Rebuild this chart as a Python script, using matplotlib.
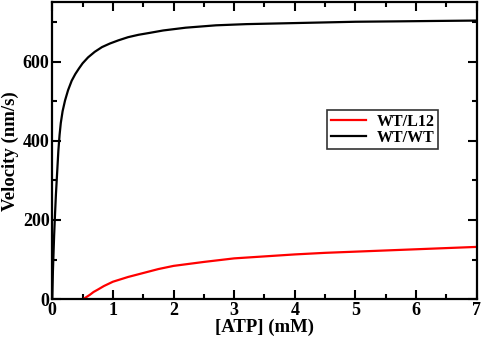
import matplotlib
matplotlib.use('Agg')
import matplotlib.pyplot as plt
from matplotlib.ticker import MultipleLocator

# values
atp_wt = [0.0, 0.01, 0.02, 0.03, 0.045, 0.06, 0.08, 0.1, 0.12, 0.14, 0.17, 0.21,
          0.26, 0.32, 0.38, 0.44, 0.5, 0.59, 0.7, 0.82, 0.95, 1.09, 1.25, 1.42,
          1.61, 1.83, 2.2, 2.7, 3.2, 3.8, 4.4, 5.0, 5.7, 6.3, 7.0]
vel_wt = [0, 70, 115, 160, 215, 265, 320, 375, 415, 445, 475, 502,
          528, 552, 569, 583, 596, 611, 625, 637, 646, 654, 662, 668,
          673, 679, 686, 692, 695, 697, 699, 701, 702, 703, 704]

atp_l12 = [0.51, 0.56, 0.62, 0.68, 0.75, 0.85, 1.0, 1.25, 1.5, 1.75, 2.0, 2.5,
           3.0, 3.5, 4.0, 4.5, 5.0, 5.5, 6.0, 6.5, 7.0]
vel_l12 = [0, 5, 11, 18, 24, 33, 44, 56, 66, 76, 84, 94,
           103, 108, 113, 117, 120, 123, 126, 129, 132]

plt.rcParams['font.family'] = ['Liberation Serif', 'DejaVu Serif']
plt.rcParams['font.weight'] = 'bold'

fig = plt.figure(figsize=(4.82, 3.38), dpi=100)
ax = fig.add_axes([0.1085, 0.115, 0.8805, 0.878])

ax.plot(atp_l12, vel_l12, color='red', lw=1.6, label='WT/L12')
ax.plot(atp_wt, vel_wt, color='black', lw=1.6, label='WT/WT')

ax.set_xlim(0, 7)
ax.set_ylim(0, 750)
ax.xaxis.set_major_locator(MultipleLocator(1))
ax.xaxis.set_minor_locator(MultipleLocator(0.5))
ax.yaxis.set_major_locator(MultipleLocator(200))
ax.yaxis.set_minor_locator(MultipleLocator(100))
ax.tick_params(which='both', direction='in', top=True, right=True, width=1.5,
               labelsize=13, pad=2)
ax.tick_params(which='major', length=6.5)
ax.tick_params(which='minor', length=3.8)
for lab in ax.get_xticklabels() + ax.get_yticklabels():
    lab.set_fontweight('bold')
for s in ax.spines.values():
    s.set_linewidth(1.6)

ax.set_xlabel('[ATP] (mM)', fontsize=13.5, fontweight='bold', labelpad=0)
ax.set_ylabel('Velocity (nm/s)', fontsize=13.5, fontweight='bold', labelpad=3)

leg = ax.legend(loc='upper left', bbox_to_anchor=(0.648, 0.636), fontsize=11.5,
                frameon=True, fancybox=False, edgecolor='black',
                handlelength=2.2, handletextpad=0.7, borderpad=0.2,
                labelspacing=0.0, borderaxespad=0)
leg.get_frame().set_linewidth(1.2)
for t in leg.get_texts():
    t.set_fontweight('bold')

fig.savefig('out.png', dpi=100)
